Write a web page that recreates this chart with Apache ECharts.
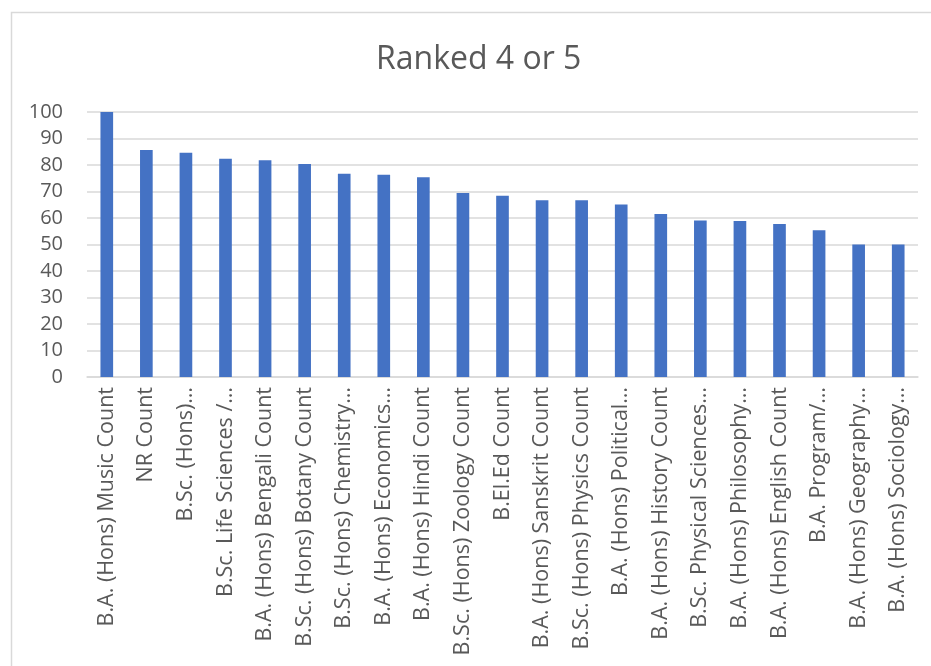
<!DOCTYPE html>
<html>
<head>
<meta charset="utf-8">
<script src="https://cdn.jsdelivr.net/npm/echarts@6/dist/echarts.min.js"></script>
<style>html,body{margin:0;padding:0;background:#fff;}#c{width:931px;height:666px;}</style>
</head>
<body>
<div id="c"></div>
<script>
var categories = [
  "B.A. (Hons) Music Count",
  "NR Count",
  "B.Sc. (Hons)…",
  "B.Sc. Life Sciences /…",
  "B.A. (Hons) Bengali Count",
  "B.Sc. (Hons) Botany Count",
  "B.Sc. (Hons) Chemistry…",
  "B.A. (Hons) Economics…",
  "B.A. (Hons) Hindi Count",
  "B.Sc. (Hons) Zoology Count",
  "B.El.Ed Count",
  "B.A. (Hons) Sanskrit Count",
  "B.Sc. (Hons) Physics Count",
  "B.A. (Hons) Political…",
  "B.A. (Hons) History Count",
  "B.Sc. Physical Sciences…",
  "B.A. (Hons) Philosophy…",
  "B.A. (Hons) English Count",
  "B.A. Program/…",
  "B.A. (Hons) Geography…",
  "B.A. (Hons) Sociology…"
];
var values = [100, 85.7, 84.6, 82.4, 81.8, 80.4, 76.7, 76.3, 75.4, 69.4, 68.4, 66.7, 66.7, 65.1, 61.5, 59.1, 58.9, 57.7, 55.4, 50, 50];
var title = "Ranked 4 or 5";

var chart = echarts.init(document.getElementById('c'));
chart.setOption({
  animation: false,
  backgroundColor: '#fff',
  graphic: [{
    type: 'rect', silent: true,
    shape: {x: 11.5, y: 12.5, width: 1000, height: 1000},
    style: {fill: 'none', stroke: '#d9d9d9', lineWidth: 1.5}
  }],
  title: {
    text: title, left: 371, top: 39,
    textStyle: {fontFamily: 'Open Sans', fontSize: 32, fontWeight: 'normal', color: '#595959'}
  },
  grid: {left: 87, right: 13, top: 112, bottom: 289, containLabel: false},
  xAxis: {
    type: 'category', data: categories,
    axisLine: {lineStyle: {color: '#d9d9d9', width: 1.5}},
    axisTick: {show: false},
    axisLabel: {rotate: 90, interval: 0, margin: 10, fontFamily: 'Open Sans', fontSize: 21.5, color: '#595959'}
  },
  yAxis: {
    type: 'value', min: 0, max: 100, interval: 10,
    axisLine: {show: false}, axisTick: {show: false},
    splitLine: {lineStyle: {color: '#d9d9d9', width: 1.5}},
    axisLabel: {fontFamily: 'Open Sans', fontSize: 20, color: '#595959', margin: 24}
  },
  series: [{
    type: 'bar', data: values, barWidth: '32%',
    itemStyle: {color: '#4472C4'}
  }]
});
</script>
</body>
</html>
